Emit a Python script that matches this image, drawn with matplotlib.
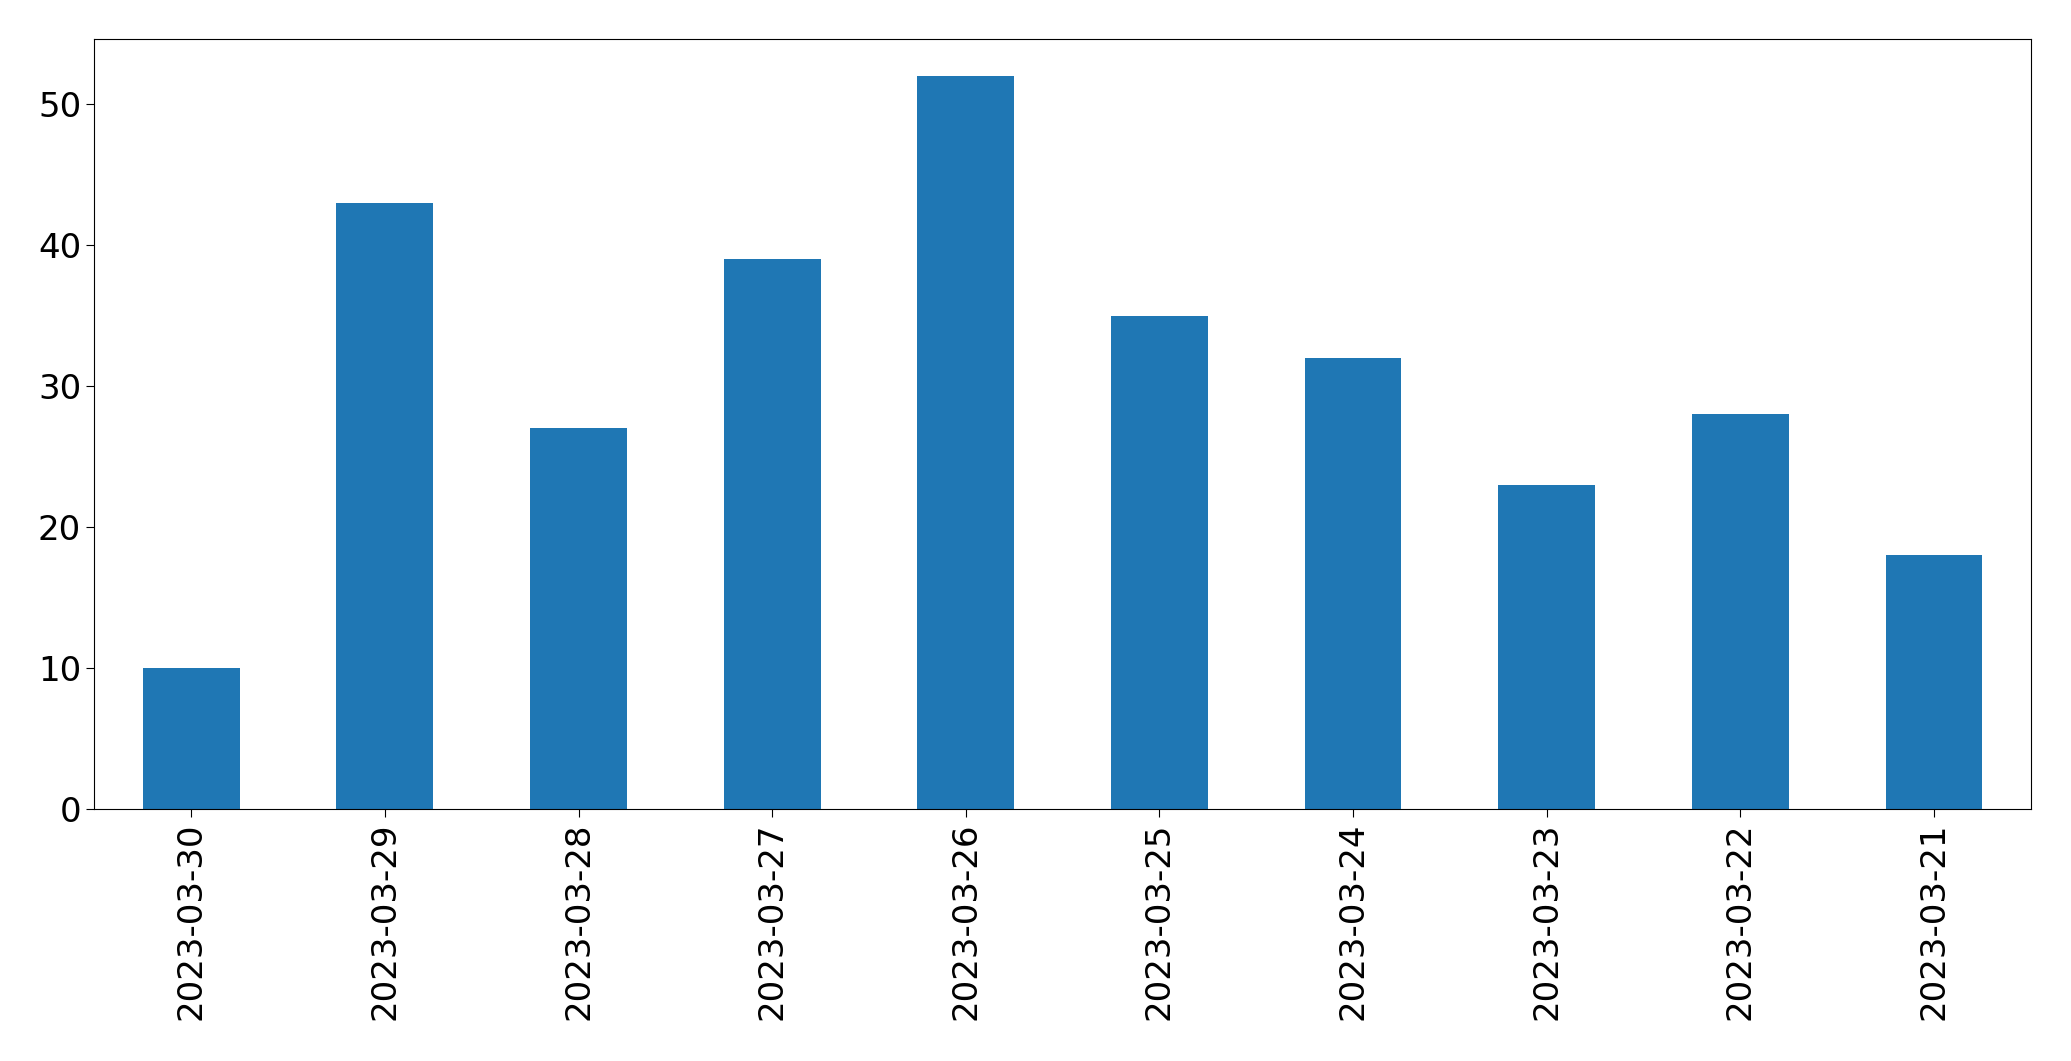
import matplotlib
matplotlib.use("Agg")
import matplotlib.pyplot as plt
import pandas as pd

# daily counts, newest first (as in the source chart)
dates = ["2023-03-30", "2023-03-29", "2023-03-28", "2023-03-27", "2023-03-26",
         "2023-03-25", "2023-03-24", "2023-03-23", "2023-03-22", "2023-03-21"]
counts = [10, 43, 27, 39, 52, 35, 32, 23, 28, 18]

series = pd.Series(counts, index=dates)

fig = plt.figure(figsize=(20.71, 10.61), dpi=100)
ax = fig.add_axes([0.0456, 0.2375, 0.935, 0.7253])

series.plot(kind="bar", ax=ax, color="#1f77b4", width=0.5)

ax.tick_params(axis="both", labelsize=24.5, length=6)
plt.setp(ax.get_xticklabels(), rotation=90)

fig.savefig("out.png", dpi=100)
